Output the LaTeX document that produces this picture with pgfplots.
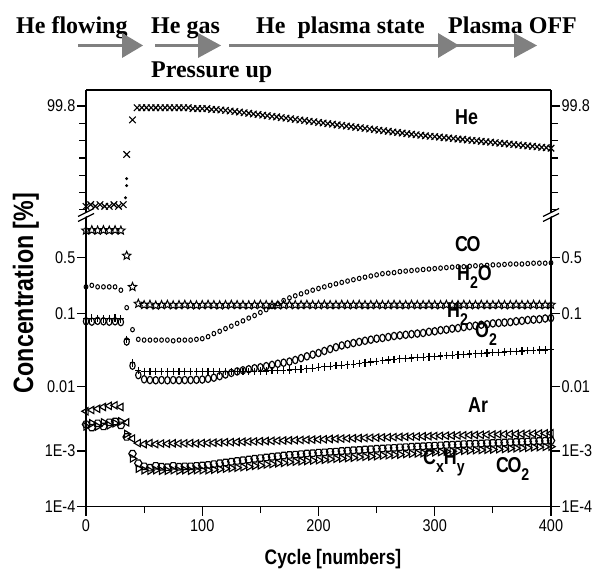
\documentclass[border=0pt]{standalone}
\usepackage{fontspec}
\setmainfont{Liberation Sans}
\newfontfamily\condsans{Liberation Sans}[FakeStretch=0.85]
\newfontfamily\condlab{Liberation Sans}[FakeStretch=0.83]
\newfontfamily\headfont{Liberation Serif}
\usepackage{pgfplots}
\usepackage{pgfplotstable}
\pgfplotsset{compat=1.18}
\definecolor{arrowgray}{RGB}{128,128,128}

\newcommand\tickfont{\condsans\fontsize{17}{17}\selectfont}
\newcommand\labfont{\condlab\bfseries\fontsize{21.5}{21.5}\selectfont}
\newcommand\sub[1]{\raisebox{-8pt}{\fontsize{17}{17}\selectfont #1}}

\makeatletter
\def\conctrafo#1{%
  \begingroup
  \pgfkeys{/pgf/fpu=true,/pgf/fpu/output format=fixed}%
  \pgfmathparse{ln(#1)/ln(10)+4}%
  \pgfmathparse{\pgfmathresult+0.08366*\pgfmathresult*\pgfmathresult}%
  \xdef\conctrafo@res{\pgfmathresult}%
  \endgroup
  \let\pgfmathresult\conctrafo@res
}
\makeatother

\pgfdeclareplotmark{hstar}{%
  \pgfpathmoveto{\pgfpointpolar{90}{\pgfplotmarksize}}%
  \pgfpathlineto{\pgfpointpolar{126}{0.45\pgfplotmarksize}}%
  \pgfpathlineto{\pgfpointpolar{162}{\pgfplotmarksize}}%
  \pgfpathlineto{\pgfpointpolar{198}{0.45\pgfplotmarksize}}%
  \pgfpathlineto{\pgfpointpolar{234}{\pgfplotmarksize}}%
  \pgfpathlineto{\pgfpointpolar{270}{0.45\pgfplotmarksize}}%
  \pgfpathlineto{\pgfpointpolar{306}{\pgfplotmarksize}}%
  \pgfpathlineto{\pgfpointpolar{342}{0.45\pgfplotmarksize}}%
  \pgfpathlineto{\pgfpointpolar{18}{\pgfplotmarksize}}%
  \pgfpathlineto{\pgfpointpolar{54}{0.45\pgfplotmarksize}}%
  \pgfpathclose
  \pgfusepathqstroke
}
\pgfdeclareplotmark{hexa}{%
  \pgfpathmoveto{\pgfpointpolar{0}{\pgfplotmarksize}}%
  \pgfpathlineto{\pgfpointpolar{60}{\pgfplotmarksize}}%
  \pgfpathlineto{\pgfpointpolar{120}{\pgfplotmarksize}}%
  \pgfpathlineto{\pgfpointpolar{180}{\pgfplotmarksize}}%
  \pgfpathlineto{\pgfpointpolar{240}{\pgfplotmarksize}}%
  \pgfpathlineto{\pgfpointpolar{300}{\pgfplotmarksize}}%
  \pgfpathclose
  \pgfusepathqstroke
}

\pgfplotstableread{
x He
0 99.22
4 99.23
8 99.22
12 99.23
16 99.22
20 99.22
24 99.23
28 99.22
32 99.23
35 99.52
40 99.72
44 99.79
48 99.79
52 99.79
56 99.79
60 99.79
64 99.79
68 99.79
72 99.79
76 99.79
80 99.79
84 99.79
88 99.79
92 99.785
96 99.785
100 99.785
104 99.785
108 99.78
112 99.78
116 99.777
120 99.775
124 99.771
128 99.768
132 99.765
136 99.761
140 99.758
144 99.754
148 99.751
152 99.747
156 99.744
160 99.740
164 99.737
168 99.733
172 99.730
176 99.726
180 99.723
184 99.719
188 99.716
192 99.712
196 99.709
200 99.705
204 99.702
208 99.698
212 99.695
216 99.691
220 99.688
224 99.684
228 99.681
232 99.677
236 99.674
240 99.671
244 99.667
248 99.664
252 99.660
256 99.657
260 99.654
264 99.650
268 99.647
272 99.644
276 99.640
280 99.637
284 99.634
288 99.631
292 99.628
296 99.625
300 99.623
304 99.620
308 99.617
312 99.615
316 99.612
320 99.609
324 99.607
328 99.604
332 99.601
336 99.599
340 99.596
344 99.593
348 99.591
352 99.588
356 99.585
360 99.583
364 99.580
368 99.577
372 99.575
376 99.572
380 99.569
384 99.567
388 99.564
392 99.561
396 99.559
400 99.556
}\hedata

\pgfplotstableread{
x He
35 99.38
35 99.34
34 99.27
}\hedots

\pgfplotstableread{
x CO H2O H2 O2 Ar CxHy CO2
0 0.22 1.05 0.080 0.087 0.0043 0.0027 0.0025
5 0.23 1.06 0.079 0.088 0.0045 0.0024 0.0028
10 0.22 1.05 0.081 0.087 0.0047 0.0028 0.0025
15 0.22 1.06 0.080 0.086 0.0050 0.0025 0.0029
20 0.22 1.05 0.079 0.087 0.0052 0.0029 0.0026
25 0.22 1.06 0.080 0.088 0.0053 0.0030 0.0028
30 0.20 1.05 0.078 0.086 0.0050 0.0026 0.0030
35 0.12 0.53 0.043 0.046 0.0029 0.0017 0.0019
40 0.062 0.22 0.020 0.022 0.0016 0.0009 0.00075
45 0.046 0.135 0.0147 0.0172 0.00135 0.00062 0.00050
50 0.045 0.130 0.0128 0.0166 0.00130 0.00055 0.00047
55 0.045 0.131 0.0125 0.0165 0.00135 0.00052 0.00046
60 0.045 0.128 0.0124 0.0166 0.00130 0.00056 0.00047
65 0.045 0.130 0.0125 0.0165 0.00133 0.00054 0.00046
70 0.045 0.131 0.0124 0.0164 0.00132 0.00053 0.00046
75 0.044 0.129 0.0125 0.0165 0.00134 0.00056 0.00047
80 0.045 0.130 0.0124 0.0165 0.00133 0.00054 0.00046
85 0.045 0.131 0.0125 0.0166 0.00134 0.00055 0.00047
90 0.045 0.130 0.0125 0.0165 0.00135 0.00055 0.00046
95 0.046 0.129 0.0126 0.0165 0.00133 0.00056 0.00047
100 0.047 0.130 0.0127 0.0165 0.00135 0.00057 0.00047
105 0.050 0.131 0.0130 0.0165 0.00136 0.00058 0.00047
110 0.055 0.130 0.0135 0.0165 0.00137 0.00060 0.00048
115 0.059 0.129 0.0142 0.0165 0.00138 0.00062 0.00049
120 0.064 0.130 0.0150 0.0165 0.00140 0.00064 0.00050
125 0.069 0.131 0.0158 0.0165 0.00140 0.00066 0.00051
130 0.075 0.130 0.0166 0.0165 0.00141 0.00068 0.00052
135 0.081 0.130 0.0172 0.0165 0.00142 0.00070 0.00053
140 0.088 0.129 0.0178 0.0165 0.00143 0.00072 0.00054
145 0.095 0.130 0.0184 0.0166 0.00144 0.00074 0.00056
150 0.104 0.131 0.0190 0.0167 0.00145 0.00076 0.00057
155 0.113 0.130 0.0197 0.0168 0.00146 0.00078 0.00059
160 0.124 0.130 0.0205 0.0170 0.00147 0.00080 0.00060
165 0.135 0.129 0.0213 0.0171 0.00148 0.00082 0.00062
170 0.148 0.130 0.0220 0.0172 0.00149 0.00084 0.00063
175 0.160 0.131 0.0228 0.0174 0.00150 0.00086 0.00065
180 0.170 0.130 0.0240 0.0176 0.00151 0.00087 0.00066
185 0.180 0.130 0.0255 0.0178 0.00152 0.00089 0.00067
190 0.190 0.131 0.0270 0.0180 0.00153 0.00091 0.00068
195 0.200 0.130 0.0285 0.0185 0.00154 0.00092 0.00069
200 0.210 0.130 0.0300 0.0190 0.00155 0.00094 0.00070
205 0.220 0.131 0.0320 0.0193 0.00156 0.00095 0.00071
210 0.230 0.130 0.0340 0.0196 0.00158 0.00097 0.00073
215 0.240 0.130 0.0360 0.0200 0.00159 0.00098 0.00074
220 0.250 0.131 0.0380 0.0203 0.00160 0.00100 0.00075
225 0.260 0.130 0.0395 0.0206 0.00161 0.00101 0.00076
230 0.270 0.130 0.0410 0.0210 0.00162 0.00103 0.00077
235 0.280 0.131 0.0425 0.0215 0.00163 0.00104 0.00079
240 0.290 0.130 0.0440 0.0220 0.00164 0.00106 0.00080
245 0.300 0.130 0.0455 0.0225 0.00165 0.00107 0.00081
250 0.310 0.131 0.0470 0.0230 0.00166 0.00109 0.00082
255 0.320 0.130 0.0480 0.0235 0.00167 0.00110 0.00084
260 0.325 0.130 0.0495 0.0240 0.00168 0.00112 0.00085
265 0.330 0.131 0.0510 0.0245 0.00169 0.00113 0.00086
270 0.340 0.130 0.0520 0.0250 0.00170 0.00115 0.00087
275 0.345 0.130 0.0530 0.0253 0.00171 0.00116 0.00089
280 0.350 0.131 0.0540 0.0256 0.00172 0.00118 0.00090
285 0.355 0.130 0.0550 0.0260 0.00173 0.00119 0.00091
290 0.360 0.130 0.0560 0.0263 0.00174 0.00120 0.00092
295 0.365 0.131 0.0580 0.0266 0.00175 0.00122 0.00094
300 0.370 0.130 0.0590 0.0270 0.00176 0.00123 0.00095
305 0.375 0.130 0.0610 0.0273 0.00177 0.00124 0.00096
310 0.380 0.131 0.0620 0.0276 0.00178 0.00126 0.00098
315 0.385 0.130 0.0640 0.0280 0.00179 0.00127 0.00099
320 0.390 0.130 0.0650 0.0283 0.00180 0.00128 0.00100
325 0.390 0.131 0.0670 0.0286 0.00181 0.00130 0.00101
330 0.395 0.130 0.0690 0.0290 0.00182 0.00131 0.00102
335 0.400 0.130 0.0700 0.0293 0.00183 0.00132 0.00103
340 0.400 0.131 0.0720 0.0296 0.00184 0.00133 0.00104
345 0.405 0.130 0.0730 0.0300 0.00185 0.00135 0.00105
350 0.410 0.130 0.0750 0.0303 0.00186 0.00136 0.00106
355 0.410 0.131 0.0760 0.0306 0.00187 0.00137 0.00107
360 0.415 0.130 0.0770 0.0310 0.00188 0.00138 0.00108
365 0.420 0.130 0.0780 0.0313 0.00189 0.00140 0.00110
370 0.420 0.131 0.0800 0.0316 0.00190 0.00141 0.00111
375 0.420 0.130 0.0810 0.0320 0.00190 0.00142 0.00112
380 0.425 0.130 0.0830 0.0323 0.00191 0.00143 0.00113
385 0.430 0.131 0.0840 0.0326 0.00192 0.00145 0.00115
390 0.430 0.130 0.0850 0.0330 0.00193 0.00146 0.00116
395 0.430 0.130 0.0870 0.0330 0.00194 0.00147 0.00117
400 0.435 0.131 0.0880 0.0335 0.00195 0.00148 0.00118
}\lowdata

\pgfplotsset{
  base/.style={scale only axis, width=465pt, xmin=0, xmax=400,
    tick align=outside, major tick length=9pt, minor tick length=6.5pt,
    axis line style={line width=1.4pt},
    tick style={line width=1.2pt, black},
    tick label style={font=\tickfont},
    yticklabel style={inner sep=1.5pt},
    /pgf/number format/assume math mode=true},
  upperpanel/.style={base, at={(86pt,354pt)}, anchor=south west, height=125pt,
    ymin=99.17, ymax=99.8925, ytick={99.8}, yticklabels={99.8},
    minor ytick={99.2,99.3,99.4,99.5,99.6,99.7}},
  lowerpanel/.style={base, at={(86pt,62.3pt)}, anchor=south west, height=291.7pt,
    y coord trafo/.code={\conctrafo{##1}},
    ymin=0.0001, ymax=1.585, ytick={0.0001,0.001,0.01,0.1,0.5},
    yticklabels={1E-4,1E-3,0.01,0.1,0.5}},
  mk/.style={only marks, black, line width=1.15pt},
}

\begin{document}
\begin{tikzpicture}[x=1pt,y=1pt]
\useasboundingbox (0,0) rectangle (604,569);

% ---------- upper panel (He) ----------
\begin{axis}[upperpanel, axis x line*=top, axis y line*=box,
  xtick=\empty, minor xtick={50,100,150,200,250,300,350}]
  \addplot[mk, mark=x, mark size=4.6pt] table[x=x,y=He] {\hedata};
  \addplot[mk, mark=*, mark size=0.8pt] table[x=x,y=He] {\hedots};
\end{axis}
\begin{axis}[upperpanel, hide x axis, axis y line*=right]
\end{axis}

% ---------- lower panel ----------
\begin{axis}[lowerpanel, axis x line*=bottom, axis y line*=box,
  xtick={0,100,200,300,400}, minor xtick={50,150,250,350}]
  \addplot[mk, mark=o, mark size=2.2pt, mark options={xscale=0.85, line width=1pt}] table[x=x,y=CO] {\lowdata};
  \addplot[mk, mark=hstar, mark size=4.4pt, mark options={line width=1pt}] table[x=x,y=H2O] {\lowdata};
  \addplot[mk, mark=o, mark size=3.7pt, mark options={xscale=0.72}] table[x=x,y=H2] {\lowdata};
  \addplot[mk, mark=+, mark size=3.8pt, mark options={xscale=0.75}] table[x=x,y=O2] {\lowdata};
  \addplot[mk, mark=triangle, mark size=4.2pt, mark options={rotate=90}] table[x=x,y=Ar] {\lowdata};
  \addplot[mk, mark=hexa, mark size=3.7pt] table[x=x,y=CxHy] {\lowdata};
  \addplot[mk, mark=triangle, mark size=4.2pt, mark options={rotate=-90}] table[x=x,y=CO2] {\lowdata};
\end{axis}
\begin{axis}[lowerpanel, hide x axis, axis y line*=right]
\end{axis}

% ---------- axis breaks ----------
\foreach \bx in {86,551}{
  \fill[white] (\bx-8,348.5) -- (\bx+8,356.5) -- (\bx+8,360.5) -- (\bx-8,352.5) -- cycle;
  \draw[line width=1.3pt] (\bx-8,347.5) -- (\bx+8,355.5);
  \draw[line width=1.3pt] (\bx-8,352.5) -- (\bx+8,360.5);
}

% ---------- axis labels ----------
\node[rotate=90, inner sep=0] at (26,276) {\condlab\bfseries\fontsize{28}{28}\selectfont Concentration [\%]};
\node[anchor=base, inner sep=0] at (333,4) {\condlab\bfseries\fontsize{21}{21}\selectfont Cycle [numbers]};

% ---------- gas labels ----------
\node[anchor=base west, inner sep=0] at (455,444) {\labfont He};
\node[anchor=base west, inner sep=0] at (455,317) {\labfont C\kern-1.5ptO};
\node[anchor=base west, inner sep=0] at (457,288) {\labfont H\sub{2}O};
\node[anchor=base west, inner sep=0] at (447,251) {\labfont H\sub{2}};
\node[anchor=base west, inner sep=0] at (475,231) {\labfont O\sub{2}};
\node[anchor=base west, inner sep=0] at (468,156) {\labfont Ar};
\node[anchor=base west, inner sep=0] at (423,104) {\labfont C\sub{x}H\sub{y}};
\node[anchor=base west, inner sep=0] at (496,96) {\labfont C\kern-1.5ptO\sub{2}};

% ---------- process header ----------
\begin{scope}[every node/.style={anchor=base west, inner sep=0, font=\headfont\bfseries\fontsize{24}{24}\selectfont}]
\node at (16,535) {He flowing};
\node at (151,535) {He gas};
\node at (256,535) {He\ \ plasma state};
\node at (448,535) {Plasma OFF};
\node at (151,491) {Pressure up};
\end{scope}
\begin{scope}[arrowgray]
\draw[line width=3pt] (78,523.5) -- (123,523.5);
\fill (122,536) -- (143,523.5) -- (122,511) -- cycle;
\draw[line width=3pt] (155,523.5) -- (199,523.5);
\fill (198,536) -- (221,523.5) -- (198,511) -- cycle;
\draw[line width=3pt] (229,523.5) -- (439,523.5);
\fill (438,536) -- (459,523.5) -- (438,511) -- cycle;
\draw[line width=3pt] (457,523.5) -- (515,523.5);
\fill (514,536) -- (537,523.5) -- (514,511) -- cycle;
\end{scope}
\end{tikzpicture}
\end{document}
